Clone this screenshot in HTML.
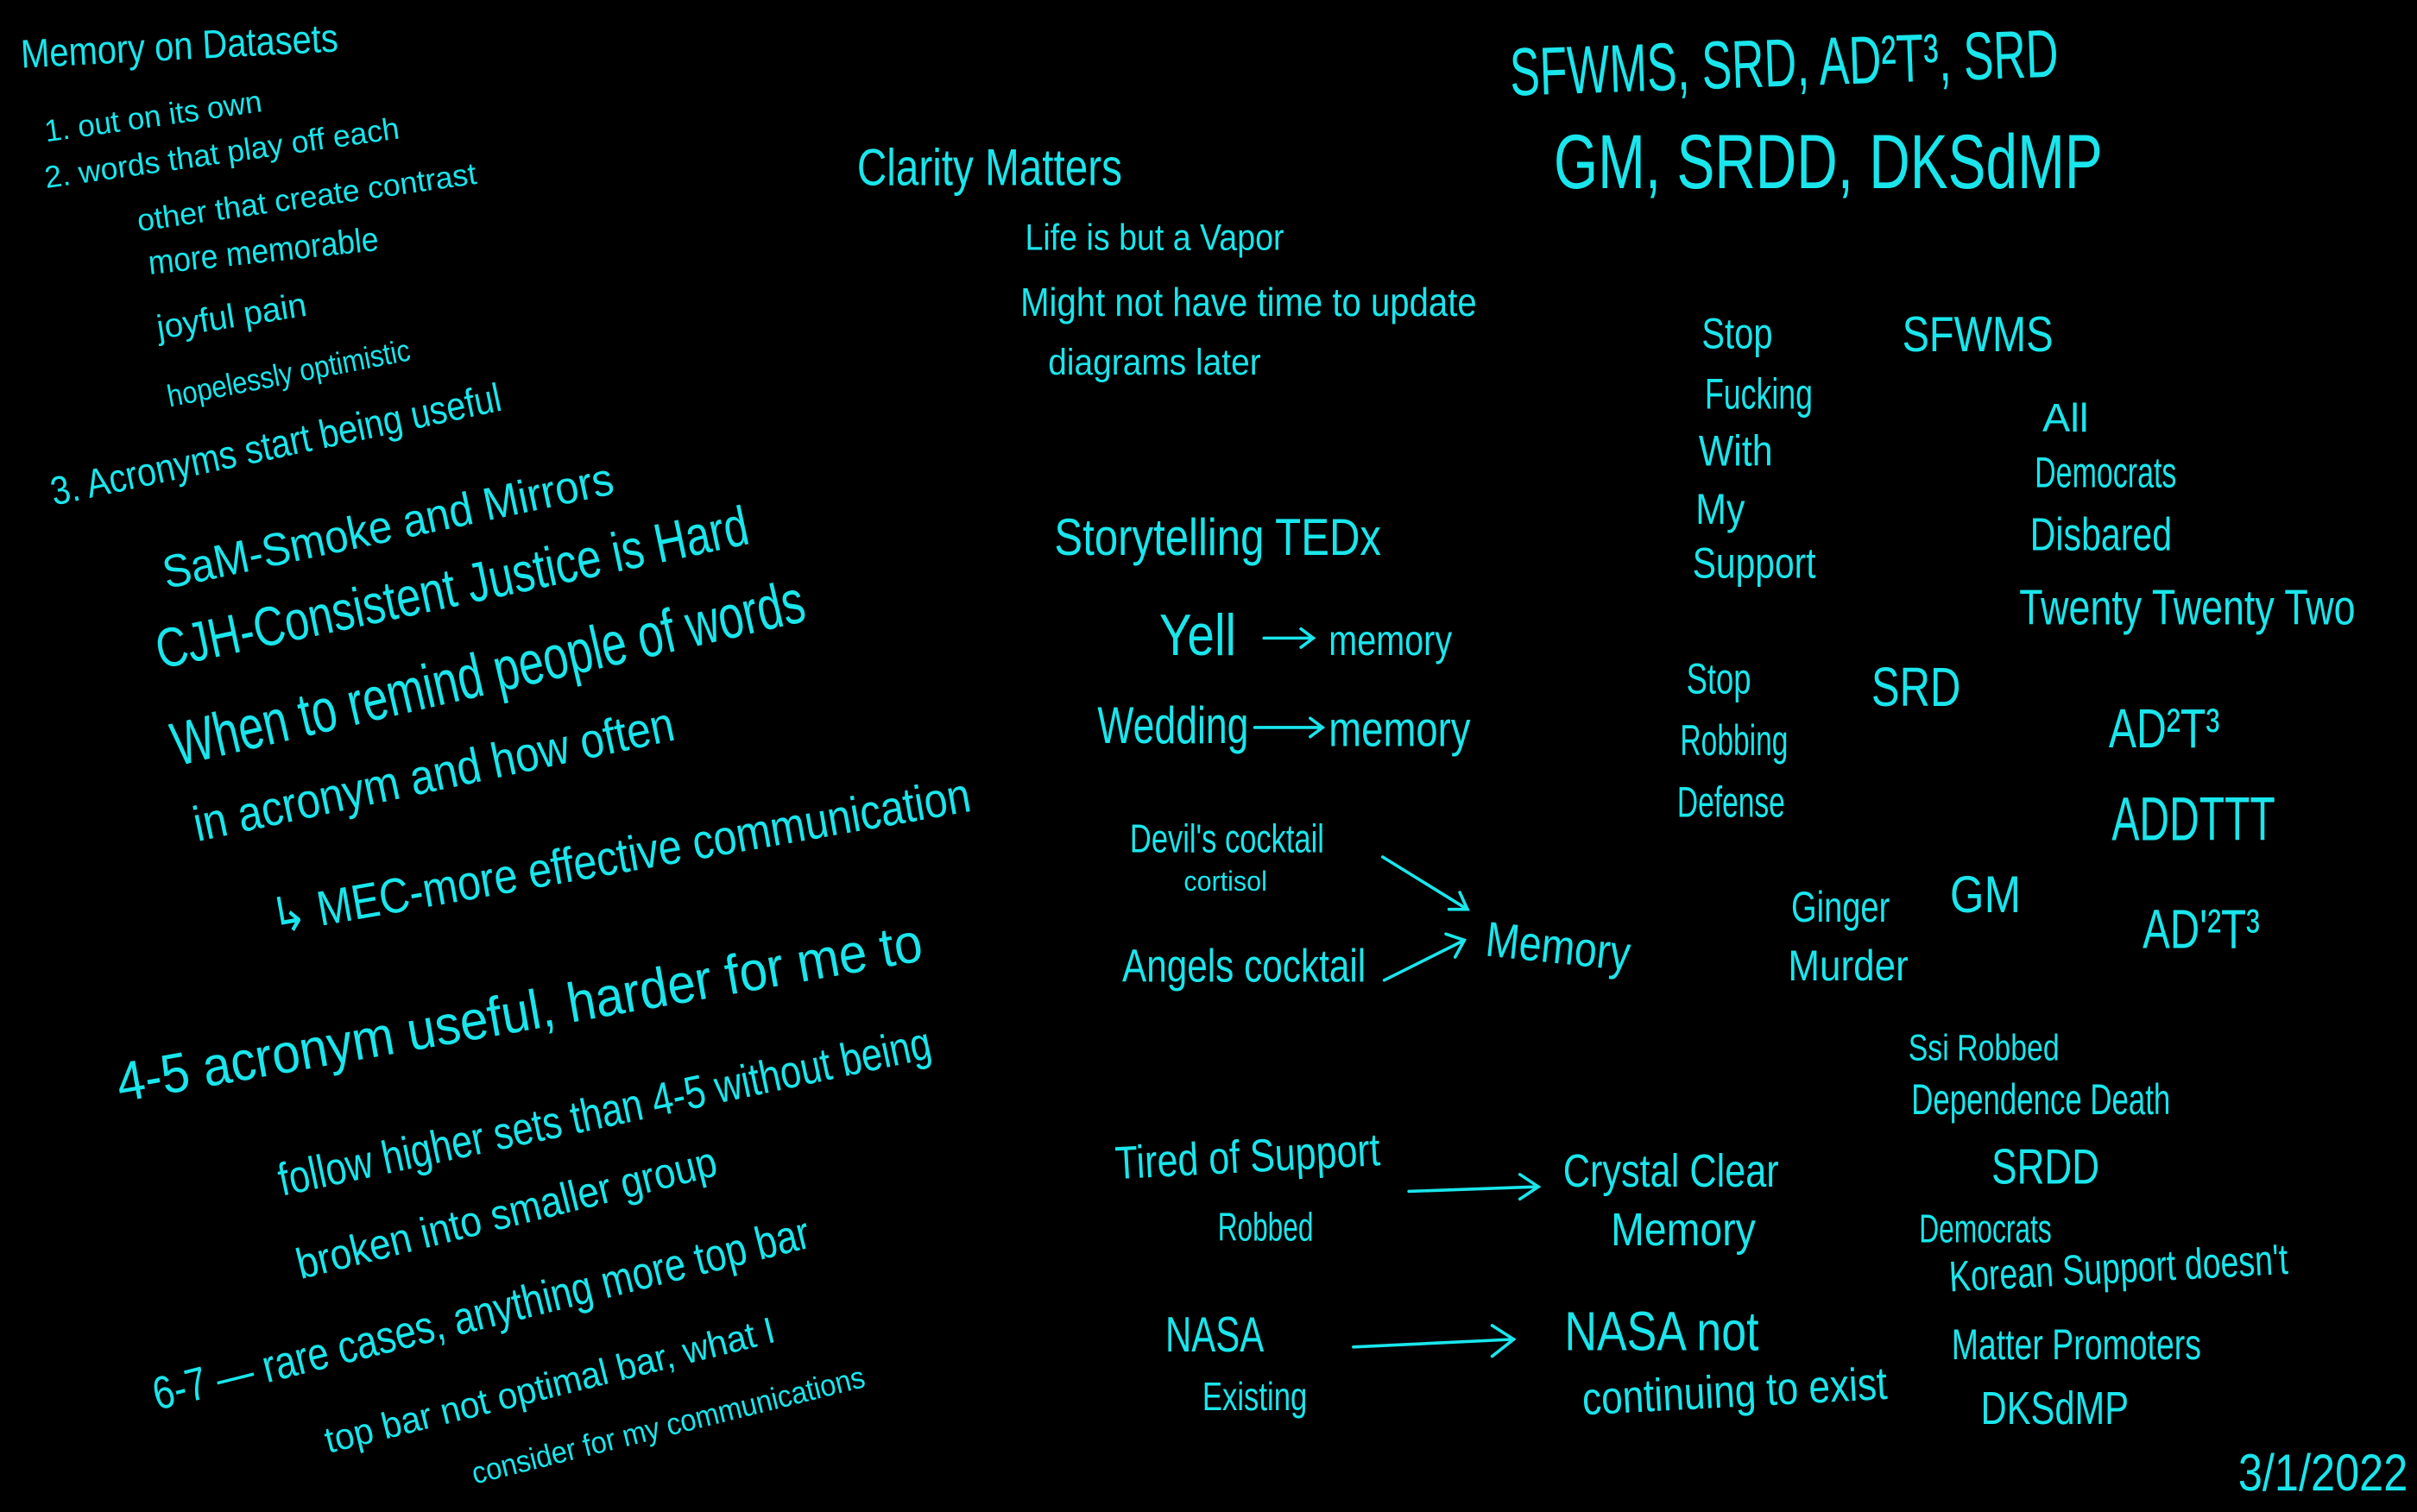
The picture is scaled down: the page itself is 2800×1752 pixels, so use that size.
<!DOCTYPE html>
<html><head><meta charset="utf-8"><style>
html,body{margin:0;padding:0;background:#000;}
svg{display:block;}
text{fill:#19e6ec;font-family:"Liberation Sans",sans-serif;}
line,path{stroke:#19e6ec;stroke-width:2;fill:none;stroke-linecap:round;}
</style></head><body>
<svg width="2800" height="1752" viewBox="0 0 1568 981" xmlns="http://www.w3.org/2000/svg">
<rect width="1568" height="981" fill="#000"/>
<!-- left column -->
<text x="14" y="44" font-size="26" textLength="206" lengthAdjust="spacingAndGlyphs" transform="rotate(-3 14 44)">Memory on Datasets</text>
<text x="30" y="92" font-size="20" textLength="142" lengthAdjust="spacingAndGlyphs" transform="rotate(-8 30 92)">1. out on its own</text>
<text x="30" y="122" font-size="20" textLength="232" lengthAdjust="spacingAndGlyphs" transform="rotate(-8 30 122)">2. words that play off each</text>
<text x="90" y="150" font-size="20" textLength="222" lengthAdjust="spacingAndGlyphs" transform="rotate(-8 90 150)">other that create contrast</text>
<text x="97" y="178" font-size="22" textLength="150" lengthAdjust="spacingAndGlyphs" transform="rotate(-6 97 178)">more memorable</text>
<text x="103" y="220" font-size="22" textLength="98" lengthAdjust="spacingAndGlyphs" transform="rotate(-9 103 220)">joyful pain</text>
<text x="110" y="264" font-size="20" textLength="160" lengthAdjust="spacingAndGlyphs" transform="rotate(-11 110 264)">hopelessly optimistic</text>
<text x="35" y="328" font-size="26" textLength="298" lengthAdjust="spacingAndGlyphs" transform="rotate(-12 35 328)">3. Acronyms start being useful</text>
<text x="108" y="382" font-size="30" textLength="298" lengthAdjust="spacingAndGlyphs" transform="rotate(-12 108 382)">SaM-Smoke and Mirrors</text>
<text x="104" y="434" font-size="36" textLength="392" lengthAdjust="spacingAndGlyphs" transform="rotate(-12 104 434)">CJH-Consistent Justice is Hard</text>
<text x="115" y="497" font-size="40" textLength="420" lengthAdjust="spacingAndGlyphs" transform="rotate(-13 115 497)">When to remind people of words</text>
<text x="128" y="546" font-size="32" textLength="318" lengthAdjust="spacingAndGlyphs" transform="rotate(-12 128 546)">in acronym and how often</text>
<text x="178" y="606" font-size="32" textLength="460" lengthAdjust="spacingAndGlyphs" transform="rotate(-10 178 606)">↳ MEC-more effective communication</text>
<text x="78" y="715" font-size="36" textLength="530" lengthAdjust="spacingAndGlyphs" transform="rotate(-10 78 715)">4-5  acronym  useful, harder for me to</text>
<text x="183" y="776" font-size="30" textLength="432" lengthAdjust="spacingAndGlyphs" transform="rotate(-12 183 776)">follow higher sets than 4-5 without being</text>
<text x="195" y="830" font-size="28" textLength="280" lengthAdjust="spacingAndGlyphs" transform="rotate(-14 195 830)">broken into smaller group</text>
<text x="102" y="915" font-size="30" textLength="438" lengthAdjust="spacingAndGlyphs" transform="rotate(-14 102 915)">6-7 — rare cases, anything more top bar</text>
<text x="213" y="943" font-size="24" textLength="300" lengthAdjust="spacingAndGlyphs" transform="rotate(-14 213 943)">top bar not optimal bar, what I</text>
<text x="308" y="963" font-size="20" textLength="262" lengthAdjust="spacingAndGlyphs" transform="rotate(-14 308 963)">consider for my communications</text>
<!-- middle -->
<text x="556" y="120" font-size="34" textLength="172" lengthAdjust="spacingAndGlyphs">Clarity Matters</text>
<text x="665" y="162" font-size="24" textLength="168" lengthAdjust="spacingAndGlyphs">Life is but a Vapor</text>
<text x="662" y="205" font-size="26" textLength="296" lengthAdjust="spacingAndGlyphs">Might not have time to update</text>
<text x="680" y="243" font-size="24" textLength="138" lengthAdjust="spacingAndGlyphs">diagrams later</text>
<text x="684" y="360" font-size="34" textLength="212" lengthAdjust="spacingAndGlyphs">Storytelling  TEDx</text>
<text x="752" y="425" font-size="38" textLength="50" lengthAdjust="spacingAndGlyphs">Yell</text>
<text x="862" y="425" font-size="28" textLength="80" lengthAdjust="spacingAndGlyphs">memory</text>
<line x1="820" y1="414" x2="852" y2="414"/><path d="M844 408 L852 414 L844 420"/>
<text x="712" y="482" font-size="34" textLength="98" lengthAdjust="spacingAndGlyphs">Wedding</text>
<text x="862" y="484" font-size="32" textLength="92" lengthAdjust="spacingAndGlyphs">memory</text>
<line x1="814" y1="472" x2="858" y2="472"/><path d="M850 466 L858 472 L850 478"/>
<text x="733" y="553" font-size="26" textLength="126" lengthAdjust="spacingAndGlyphs">Devil's cocktail</text>
<text x="768" y="578" font-size="18" textLength="54" lengthAdjust="spacingAndGlyphs">cortisol</text>
<text x="728" y="637" font-size="30" textLength="158" lengthAdjust="spacingAndGlyphs">Angels cocktail</text>
<line x1="897" y1="556" x2="952" y2="590"/><path d="M940 590 L952 590 L947 579"/>
<line x1="898" y1="636" x2="950" y2="610"/><path d="M938 606 L950 610 L944 621"/>
<text x="963" y="620" font-size="32" textLength="94" lengthAdjust="spacingAndGlyphs" transform="rotate(6 963 620)">Memory</text>
<text x="724" y="765" font-size="30" textLength="172" lengthAdjust="spacingAndGlyphs" transform="rotate(-3 724 765)">Tired of Support</text>
<text x="790" y="805" font-size="26" textLength="62" lengthAdjust="spacingAndGlyphs">Robbed</text>
<line x1="914" y1="773" x2="998" y2="770"/><path d="M986 762 L998 770 L986 778"/>
<text x="1014" y="770" font-size="30" textLength="140" lengthAdjust="spacingAndGlyphs">Crystal Clear</text>
<text x="1045" y="808" font-size="30" textLength="94" lengthAdjust="spacingAndGlyphs">Memory</text>
<text x="756" y="877" font-size="32" textLength="64" lengthAdjust="spacingAndGlyphs">NASA</text>
<text x="780" y="915" font-size="26" textLength="68" lengthAdjust="spacingAndGlyphs">Existing</text>
<line x1="878" y1="874" x2="982" y2="869"/><path d="M968 860 L982 869 L968 880"/>
<text x="1015" y="876" font-size="36" textLength="126" lengthAdjust="spacingAndGlyphs">NASA not</text>
<text x="1027" y="918" font-size="30" textLength="198" lengthAdjust="spacingAndGlyphs" transform="rotate(-3 1027 918)">continuing to exist</text>
<!-- right -->
<text x="980" y="62" font-size="44" textLength="356" lengthAdjust="spacingAndGlyphs" transform="rotate(-2 980 62)">SFWMS, SRD, AD²T³, SRD</text>
<text x="1008" y="122" font-size="50" textLength="356" lengthAdjust="spacingAndGlyphs">GM, SRDD, DKSdMP</text>
<text x="1104" y="226" font-size="28" textLength="46" lengthAdjust="spacingAndGlyphs">Stop</text>
<text x="1106" y="265" font-size="28" textLength="70" lengthAdjust="spacingAndGlyphs">Fucking</text>
<text x="1102" y="302" font-size="28" textLength="48" lengthAdjust="spacingAndGlyphs">With</text>
<text x="1100" y="340" font-size="28" textLength="32" lengthAdjust="spacingAndGlyphs">My</text>
<text x="1098" y="375" font-size="28" textLength="80" lengthAdjust="spacingAndGlyphs">Support</text>
<text x="1234" y="228" font-size="32" textLength="98" lengthAdjust="spacingAndGlyphs">SFWMS</text>
<text x="1325" y="280" font-size="26" textLength="30" lengthAdjust="spacingAndGlyphs">All</text>
<text x="1320" y="316" font-size="28" textLength="92" lengthAdjust="spacingAndGlyphs">Democrats</text>
<text x="1317" y="357" font-size="30" textLength="92" lengthAdjust="spacingAndGlyphs">Disbared</text>
<text x="1310" y="405" font-size="32" textLength="218" lengthAdjust="spacingAndGlyphs">Twenty Twenty Two</text>
<text x="1094" y="450" font-size="28" textLength="42" lengthAdjust="spacingAndGlyphs">Stop</text>
<text x="1090" y="490" font-size="28" textLength="70" lengthAdjust="spacingAndGlyphs">Robbing</text>
<text x="1088" y="530" font-size="28" textLength="70" lengthAdjust="spacingAndGlyphs">Defense</text>
<text x="1214" y="458" font-size="36" textLength="58" lengthAdjust="spacingAndGlyphs">SRD</text>
<text x="1368" y="485" font-size="36" textLength="72" lengthAdjust="spacingAndGlyphs">AD²T³</text>
<text x="1370" y="545" font-size="40" textLength="106" lengthAdjust="spacingAndGlyphs">ADDTTT</text>
<text x="1390" y="615" font-size="36" textLength="76" lengthAdjust="spacingAndGlyphs">AD'²T³</text>
<text x="1162" y="598" font-size="28" textLength="64" lengthAdjust="spacingAndGlyphs">Ginger</text>
<text x="1160" y="636" font-size="28" textLength="78" lengthAdjust="spacingAndGlyphs">Murder</text>
<text x="1265" y="592" font-size="34" textLength="46" lengthAdjust="spacingAndGlyphs">GM</text>
<text x="1238" y="688" font-size="24" textLength="98" lengthAdjust="spacingAndGlyphs">Ssi Robbed</text>
<text x="1240" y="723" font-size="28" textLength="168" lengthAdjust="spacingAndGlyphs">Dependence Death</text>
<text x="1292" y="768" font-size="32" textLength="70" lengthAdjust="spacingAndGlyphs">SRDD</text>
<text x="1245" y="806" font-size="26" textLength="86" lengthAdjust="spacingAndGlyphs">Democrats</text>
<text x="1265" y="838" font-size="28" textLength="220" lengthAdjust="spacingAndGlyphs" transform="rotate(-3 1265 838)">Korean Support doesn't</text>
<text x="1266" y="882" font-size="28" textLength="162" lengthAdjust="spacingAndGlyphs">Matter Promoters</text>
<text x="1285" y="924" font-size="30" textLength="96" lengthAdjust="spacingAndGlyphs">DKSdMP</text>
<text x="1452" y="967" font-size="34" textLength="110" lengthAdjust="spacingAndGlyphs">3/1/2022</text>
</svg>
</body></html>
